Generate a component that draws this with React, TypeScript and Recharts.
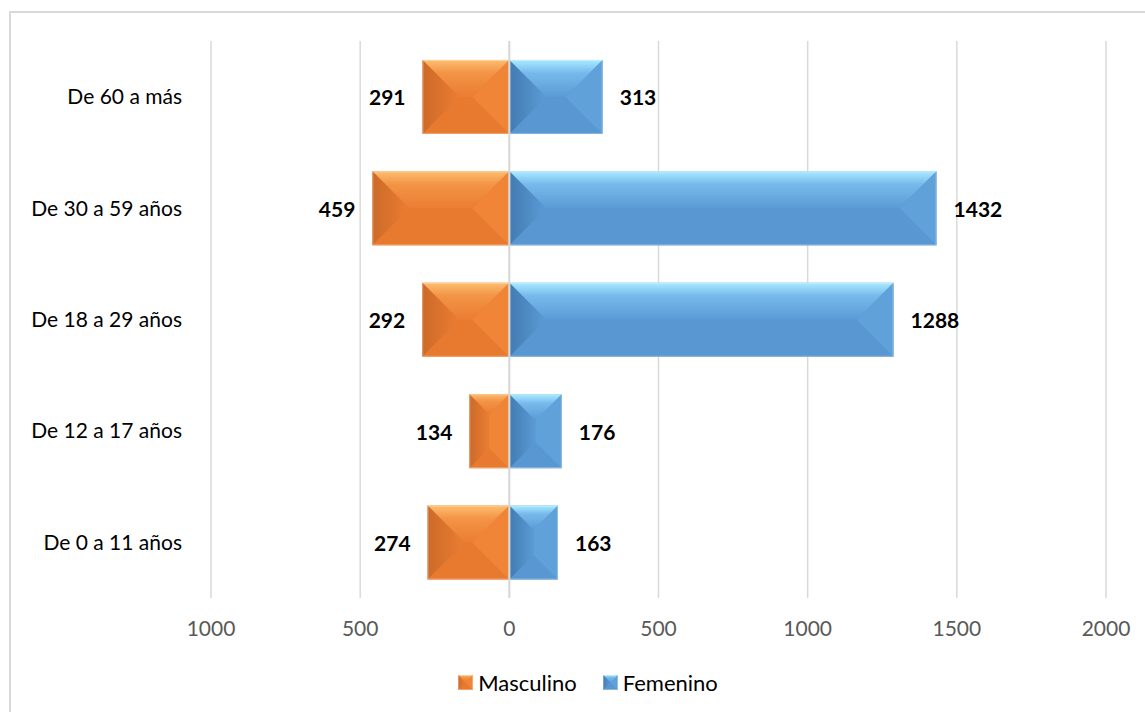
import { BarChart, Bar, XAxis, YAxis, CartesianGrid, Legend, LabelList, ReferenceLine } from "recharts";

const categories = ["De 60 a más", "De 30 a 59 años", "De 18 a 29 años", "De 12 a 17 años", "De 0 a 11 años"];
const masculino = [291, 459, 292, 134, 274];
const femenino = [313, 1432, 1288, 176, 163];
const xTicks = [-1000, -500, 0, 500, 1000, 1500, 2000];

const chartData = categories.map((name, i) => ({
  name,
  Masculino: -masculino[i],
  Femenino: femenino[i],
}));

const FONT = "Lato, 'Open Sans', sans-serif";

const ORANGE = {
  id: "or",
  body: "#EB7D32",
  top1: "#FDBE70",
  top2: "#F39446",
  left: "#CC6A29",
  right: "#F08538",
  bottom: "#E77A2F",
};
const BLUE = {
  id: "bl",
  body: "#5B9BD5",
  top1: "#A8EBFF",
  top2: "#78B9EC",
  left: "#427BB2",
  right: "#60A1DA",
  bottom: "#5897D1",
};

const BevelBar = (props: any) => {
  const { x, y, width, height, pal } = props;
  if (!width || !height) return null;
  const x0 = width < 0 ? x + width : x;
  const w = Math.abs(width);
  const h = Math.abs(height);
  const d = Math.min(w / 2, h / 2);
  const x1 = x0 + w;
  const y1 = y + h;
  return (
    <g>
      <rect x={x0} y={y} width={w} height={h} fill={pal.body} />
      <polygon points={`${x0},${y} ${x1},${y} ${x1 - d},${y + d} ${x0 + d},${y + d}`} fill={`url(#top-${pal.id})`} />
      <polygon points={`${x0},${y1} ${x1},${y1} ${x1 - d},${y1 - d} ${x0 + d},${y1 - d}`} fill={pal.bottom} />
      <polygon points={`${x0},${y} ${x0 + d},${y + d} ${x0 + d},${y1 - d} ${x0},${y1}`} fill={`url(#left-${pal.id})`} />
      <polygon points={`${x1},${y} ${x1 - d},${y + d} ${x1 - d},${y1 - d} ${x1},${y1}`} fill={pal.right} />
      <rect x={x0 + 0.5} y={y + 0.5} width={w - 1} height={h - 1} fill="none" stroke="#ffffff" strokeOpacity={0.3} />
    </g>
  );
};

const ValueLabel = (props: any) => {
  const { x, y, width, height, value } = props;
  const v = Number(value);
  const left = width < 0 ? x + width : x;
  const right = width < 0 ? x : x + width;
  const cy = y + height / 2;
  const neg = v < 0;
  return (
    <text
      x={neg ? left - 17 : right + 17}
      y={cy}
      textAnchor={neg ? "end" : "start"}
      dominantBaseline="central"
      fontFamily={FONT}
      fontWeight="bold"
      fontSize={21}
      fill="#000"
    >
      {Math.abs(v)}
    </text>
  );
};

const LegendIcon = ({ pal }: { pal: any }) => (
  <svg width={15} height={15} style={{ marginRight: 5 }}>
    <BevelBar x={0} y={0} width={15} height={15} pal={pal} />
  </svg>
);

const LegendBox = () => (
  <div
    style={{
      height: 30,
      display: "flex",
      justifyContent: "center",
      alignItems: "center",
      fontFamily: FONT,
      fontSize: 22,
      color: "#000",
      paddingLeft: 59,
    }}
  >
    <span style={{ display: "flex", alignItems: "center", marginRight: 26 }}>
      <LegendIcon pal={ORANGE} />
      Masculino
    </span>
    <span style={{ display: "flex", alignItems: "center" }}>
      <LegendIcon pal={BLUE} />
      Femenino
    </span>
  </div>
);

const Defs = () => (
  <defs>
    {[ORANGE, BLUE].map((p) => (
      <g key={p.id}>
        <linearGradient id={`top-${p.id}`} x1="0" y1="0" x2="0" y2="1">
          <stop offset="0%" stopColor={p.top1} />
          <stop offset="35%" stopColor={p.top2} />
          <stop offset="100%" stopColor={p.body} />
        </linearGradient>
        <linearGradient id={`left-${p.id}`} x1="0" y1="0" x2="1" y2="0">
          <stop offset="0%" stopColor={p.left} />
          <stop offset="100%" stopColor={p.body} />
        </linearGradient>
      </g>
    ))}
  </defs>
);

const App = () => {
  return (
    <div style={{ position: "fixed", left: 0, top: 0, width: 1145, height: 712, background: "#fff", overflow: "hidden" }}>
      <div
        style={{
          position: "absolute",
          left: 9,
          top: 11,
          width: 1200,
          height: 800,
          border: "2px solid #d9d9d9",
        }}
      />
      <div style={{ position: "absolute", left: 0, top: 0 }}>
        <BarChart
          width={1145}
          height={712}
          data={chartData}
          layout="vertical"
          stackOffset="sign"
          barCategoryGap="17%"
          margin={{ top: 41, right: 39, bottom: 15, left: 11 }}
        >
          <Defs />
          <CartesianGrid horizontal={false} stroke="#d9d9d9" strokeWidth={1.5} />
          <XAxis
            type="number"
            domain={[-1000, 2000]}
            ticks={xTicks}
            tickFormatter={(v: number) => String(Math.abs(v))}
            axisLine={false}
            tickLine={false}
            tickSize={0}
            tickMargin={23}
            height={69}
            tick={{ fill: "#595959", fontSize: 21, fontFamily: FONT }}
          />
          <YAxis
            type="category"
            dataKey="name"
            width={200}
            axisLine={false}
            tickLine={false}
            tickSize={0}
            tickMargin={29}
            tick={{ fill: "#000", fontSize: 21, fontFamily: FONT }}
          />
          <Legend verticalAlign="bottom" content={() => <LegendBox />} />
          <Bar
            dataKey="Masculino"
            stackId="a"
            isAnimationActive={false}
            fill={ORANGE.body}
            shape={(p: any) => <BevelBar {...p} pal={ORANGE} />}
          >
            <LabelList dataKey="Masculino" content={ValueLabel} />
          </Bar>
          <Bar
            dataKey="Femenino"
            stackId="a"
            isAnimationActive={false}
            fill={BLUE.body}
            shape={(p: any) => <BevelBar {...p} pal={BLUE} />}
          >
            <LabelList dataKey="Femenino" content={ValueLabel} />
          </Bar>
          <ReferenceLine x={0} stroke="#d9d9d9" strokeWidth={2} />
        </BarChart>
      </div>
    </div>
  );
};

export default App;
